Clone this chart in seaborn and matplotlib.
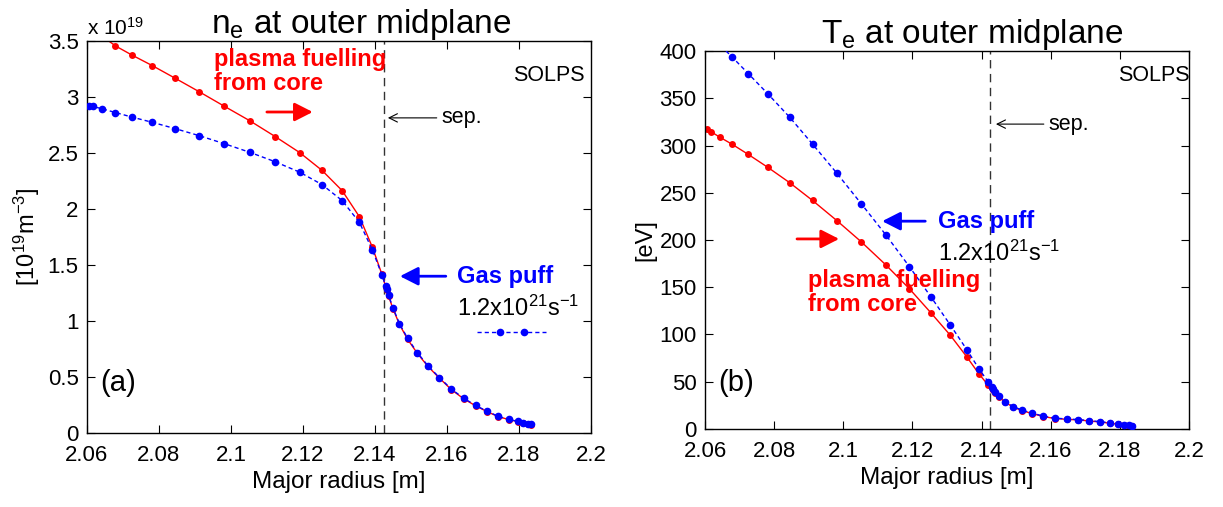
import matplotlib
matplotlib.use("Agg")
import matplotlib.pyplot as plt
import numpy as np
import pandas as pd
import seaborn as sns
from matplotlib.lines import Line2D
from matplotlib.legend_handler import HandlerLine2D, HandlerTuple

# ---------------- data ----------------
R = [2.0605, 2.0617, 2.0642, 2.0679, 2.0725, 2.0782, 2.0845, 2.0911, 2.0981,
     2.1052, 2.1123, 2.1191, 2.1253, 2.1309, 2.1357, 2.1393, 2.1419, 2.1430,
     2.1433, 2.1438, 2.1450, 2.1468, 2.1491, 2.1518, 2.1547, 2.1579, 2.1612,
     2.1646, 2.1680, 2.1712, 2.1743, 2.1772, 2.1796, 2.1812, 2.1825, 2.1834]

ne_core = [3.575, 3.565, 3.545, 3.457, 3.375, 3.280, 3.168, 3.049, 2.919,
           2.789, 2.647, 2.504, 2.345, 2.164, 1.930, 1.658, 1.420, 1.305,
           1.280, 1.220, 1.110, 0.970, 0.835, 0.710, 0.595, 0.490, 0.388,
           0.306, 0.242, 0.190, 0.145, 0.120, 0.102, 0.089, 0.081, 0.075]
ne_gas = [2.924, 2.916, 2.895, 2.862, 2.821, 2.774, 2.718, 2.656, 2.584,
          2.507, 2.422, 2.329, 2.218, 2.075, 1.880, 1.634, 1.415, 1.312,
          1.288, 1.228, 1.119, 0.977, 0.844, 0.717, 0.601, 0.495, 0.393,
          0.311, 0.246, 0.193, 0.148, 0.122, 0.104, 0.091, 0.083, 0.077]

te_core = [317.2, 314.8, 309.1, 301.3, 290.7, 276.9, 260.7, 241.9, 220.7,
           198.1, 173.7, 148.5, 123.1, 99.4, 76.4, 58.0, 46.4, 43.0,
           41.0, 38.5, 34.0, 28.3, 23.1, 19.3, 16.2, 13.1, 11.0,
           10.2, 9.5, 8.4, 7.3, 6.0, 4.9, 3.8, 3.5, 3.1]
te_gas = [423.0, 417.0, 407.0, 393.6, 376.3, 354.7, 330.0, 301.6, 270.9,
          238.4, 205.5, 171.9, 140.1, 110.3, 84.1, 63.3, 49.9, 44.9,
          42.1, 39.6, 35.0, 29.0, 23.7, 19.8, 16.7, 13.5, 11.4,
          10.6, 9.9, 8.8, 7.7, 6.4, 5.3, 4.2, 3.9, 3.5]

separatrix = 2.1425
x_ticks = [2.06, 2.08, 2.10, 2.12, 2.14, 2.16, 2.18, 2.20]
x_tick_labels = ["2.06", "2.08", "2.1", "2.12", "2.14", "2.16", "2.18", "2.2"]
ne_ticks = [0, 0.5, 1, 1.5, 2, 2.5, 3, 3.5]
ne_tick_labels = ["0", "0.5", "1", "1.5", "2", "2.5", "3", "3.5"]
te_ticks = [0, 50, 100, 150, 200, 250, 300, 350, 400]
te_tick_labels = [str(t) for t in te_ticks]

RED = "#ff0000"
BLUE = "#0000ff"

# ---------------- style ----------------
sns.set_theme(style="ticks")
plt.rcParams["font.family"] = ["Liberation Sans", "DejaVu Sans"]
plt.rcParams["mathtext.default"] = "regular"
for key in ["text.color", "axes.labelcolor", "xtick.color", "ytick.color",
            "axes.edgecolor"]:
    plt.rcParams[key] = "black"

df = pd.DataFrame({"R": R, "ne_core": ne_core, "ne_gas": ne_gas,
                   "te_core": te_core, "te_gas": te_gas})

fig = plt.figure(figsize=(12.23, 5.07), dpi=100)
ax1 = fig.add_axes([0.0711, 0.146, 0.4121, 0.773])
ax2 = fig.add_axes([0.5765, 0.154, 0.3957, 0.745])


def draw(ax, ycore, ygas):
    sns.lineplot(data=df, x="R", y=ycore, ax=ax, color=RED, lw=1.0,
                 marker="o", ms=5.0, mec=RED, mew=0, errorbar=None,
                 sort=False, zorder=2)
    sns.lineplot(data=df, x="R", y=ygas, ax=ax, color=BLUE, lw=1.0,
                 linestyle=(0, (3, 2.2)), marker="o", ms=5.5, mec=BLUE,
                 mew=0, errorbar=None, sort=False, zorder=3)
    ax.axvline(separatrix, color="#333333", lw=1.0, ls=(0, (6, 4)), zorder=1)
    ax.set_xlim(2.06, 2.2)
    ax.set_xticks(x_ticks)
    ax.set_xticklabels(x_tick_labels)
    ax.tick_params(direction="in", top=True, right=True, length=6,
                   width=0.8, labelsize=16, color="black", labelcolor="black",
                   pad=6)
    ax.tick_params(axis="x", pad=8.5)
    for s in ax.spines.values():
        s.set_linewidth(1.0)
        s.set_color("black")
    ax.set_xlabel("Major radius [m]", fontsize=17.5, labelpad=4)


def arrow(ax, tail, head, color, lw, style, scale):
    ax.annotate("", xy=head, xytext=tail, xycoords="axes fraction",
                textcoords="axes fraction",
                arrowprops=dict(arrowstyle=style, color=color, lw=lw,
                                mutation_scale=scale, shrinkA=0, shrinkB=0))


# ---------------- panel (a) ----------------
draw(ax1, "ne_core", "ne_gas")
ax1.set_ylim(0, 3.5)
ax1.set_yticks(ne_ticks)
ax1.set_yticklabels(ne_tick_labels)
ax1.set_ylabel("[10$^{19}$m$^{-3}$]", fontsize=17, labelpad=4)
ax1.set_title("n$_{e}$ at outer midplane", fontsize=24, pad=6, x=0.544)
ax1.text(0.0, 1.005, "x 10$^{19}$", transform=ax1.transAxes, fontsize=15,
         ha="left", va="bottom")

ax1.text(0.252, 0.923, "plasma fuelling\nfrom core", transform=ax1.transAxes,
         color=RED, fontsize=17, fontweight="bold", ha="left", va="center",
         linespacing=1.05)
arrow(ax1, (0.357, 0.819), (0.448, 0.819), RED, 2.0,
      "-|>,head_length=0.55,head_width=0.28", 20)
ax1.text(0.917, 0.913, "SOLPS", transform=ax1.transAxes, fontsize=15.5,
         ha="center", va="center")
ax1.text(0.703, 0.804, "sep.", transform=ax1.transAxes, fontsize=15.5,
         ha="left", va="center")
arrow(ax1, (0.694, 0.804), (0.597, 0.804), "black", 0.8,
      "->,head_length=0.5,head_width=0.25", 12)
ax1.text(0.734, 0.40, "Gas puff", transform=ax1.transAxes, color=BLUE,
         fontsize=17, fontweight="bold", ha="left", va="center")
arrow(ax1, (0.712, 0.40), (0.621, 0.40), BLUE, 2.0,
      "-|>,head_length=0.55,head_width=0.28", 20)
ax1.text(0.734, 0.318, "1.2x10$^{21}$s$^{-1}$", transform=ax1.transAxes,
         fontsize=17, ha="left", va="center")
ax1.text(0.026, 0.128, "(a)", transform=ax1.transAxes, fontsize=21,
         ha="left", va="center")

# legend-style sample of the gas-puff line
h_line = Line2D([], [], color=BLUE, lw=1.0, linestyle=(0, (3, 2.2)))
h_mark = Line2D([], [], color=BLUE, linestyle="None", marker="o", ms=5.5,
                mew=0)
ax1.legend([(h_line, h_mark)], [""], loc="center left",
           bbox_to_anchor=(0.774, 0.255), frameon=False, fontsize=10,
           handlelength=5.0, borderpad=0, borderaxespad=0, handletextpad=0,
           handler_map={tuple: HandlerTuple(ndivide=1, pad=0),
                        h_line: HandlerLine2D(numpoints=1),
                        h_mark: HandlerLine2D(numpoints=2, marker_pad=1.65)})

# ---------------- panel (b) ----------------
draw(ax2, "te_core", "te_gas")
ax2.set_ylim(0, 400)
ax2.set_yticks(te_ticks)
ax2.set_yticklabels(te_tick_labels)
ax2.set_ylabel("[eV]", fontsize=17, labelpad=2)
ax2.set_title("T$_{e}$ at outer midplane", fontsize=24, pad=6, x=0.552)

ax2.text(0.928, 0.937, "SOLPS", transform=ax2.transAxes, fontsize=15.5,
         ha="center", va="center")
ax2.text(0.709, 0.807, "sep.", transform=ax2.transAxes, fontsize=15.5,
         ha="left", va="center")
arrow(ax2, (0.700, 0.807), (0.601, 0.807), "black", 0.8,
      "->,head_length=0.5,head_width=0.25", 12)
arrow(ax2, (0.455, 0.550), (0.366, 0.550), BLUE, 2.0,
      "-|>,head_length=0.55,head_width=0.28", 20)
ax2.text(0.481, 0.550, "Gas puff", transform=ax2.transAxes, color=BLUE,
         fontsize=17, fontweight="bold", ha="left", va="center")
ax2.text(0.481, 0.466, "1.2x10$^{21}$s$^{-1}$", transform=ax2.transAxes,
         fontsize=17, ha="left", va="center")
arrow(ax2, (0.190, 0.503), (0.277, 0.503), RED, 2.0,
      "-|>,head_length=0.55,head_width=0.28", 20)
ax2.text(0.213, 0.360, "plasma fuelling\nfrom core", transform=ax2.transAxes,
         color=RED, fontsize=17, fontweight="bold", ha="left", va="center",
         linespacing=1.05)
ax2.text(0.027, 0.122, "(b)", transform=ax2.transAxes, fontsize=21,
         ha="left", va="center")

fig.savefig("out.png", dpi=100)
